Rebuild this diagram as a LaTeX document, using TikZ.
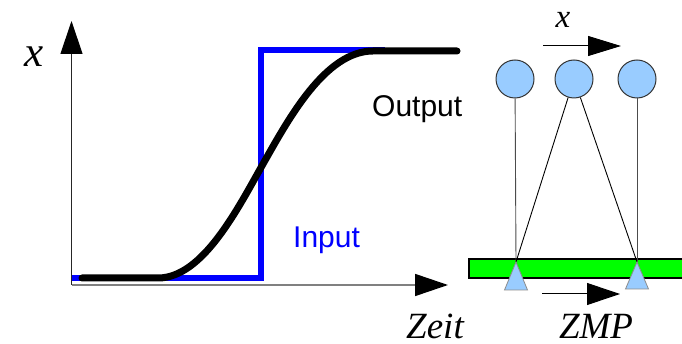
\documentclass[tikz,border=0pt]{standalone}
\usepackage{fontspec}
\setmainfont{Liberation Serif}
\newfontfamily\sansf{Liberation Sans}
\usetikzlibrary{arrows.meta}
\definecolor{lblue}{HTML}{99CCFF}
\definecolor{pureblue}{HTML}{0000FF}
\definecolor{pgreen}{HTML}{00FF00}
\begin{document}
\begin{tikzpicture}[x=1pt,y=-1pt,
  ball/.style={circle,draw=black!80,fill=lblue,line width=1pt,minimum size=38pt,inner sep=0pt},
  rod/.style={draw=black!70,line width=0.9pt},
  foot/.style={draw=black!45,fill=lblue,line width=0.8pt},
  lbl/.style={font=\fontsize{37}{39}\selectfont\itshape,inner sep=0pt},
  slbl/.style={font=\sansf\fontsize{30}{32}\selectfont,inner sep=0pt},
  bigarrow/.style={-{Triangle[length=33pt,width=22pt,color=black,fill=black]}},
]
\useasboundingbox (0,0) rectangle (682,344);
% axes
\coordinate (o) at (71.5,285);
\coordinate (ytip) at (71.5,21);
\coordinate (xtip) at (448,285);
\draw[bigarrow,line width=1.2pt,black!85] (o) -- (ytip);
\draw[bigarrow,line width=1.6pt,black!50] (o) -- (xtip);
% input
\coordinate (i0) at (72,278);
\coordinate (i1) at (260.5,278);
\coordinate (i2) at (260.5,50.5);
\coordinate (i3) at (385,50.5);
\draw[pureblue,line width=6pt] (i0) -- (i1) -- (i2) -- (i3);
% output
\coordinate (c0) at (82,278);
\coordinate (c1) at (158,278);
\coordinate (cm) at (263,164);
\coordinate (c2) at (373,51);
\coordinate (c3) at (457,51);
\draw[black,line width=7pt,line cap=round] (c0) -- (c1)
  .. controls (203,278) and (238,208) .. (cm)
  .. controls (288,120) and (325,51) .. (c2) -- (c3);
\node[lbl,font=\fontsize{43}{45}\selectfont\itshape] (lx) at (34,57) {x};
\node[lbl] (lzeit) at (435,326) {Zeit};
\node[slbl,anchor=base west] (lout) at (372,117) {Output};
\node[slbl,anchor=base west,text=pureblue] (lin) at (293,248) {Input};
% right part
\draw[draw=black,fill=pgreen,line width=1.2pt] (469,259) rectangle (685,278);
\node[ball] (b1) at (515,79) {};
\node[ball] (b2) at (574,79) {};
\node[ball] (b3) at (637,79) {};
\coordinate (t1) at (516,262);
\coordinate (t2) at (637,262);
\draw[rod] (b1) -- (t1);
\draw[rod,black] (b2) -- (t1);
\draw[rod,black] (b2) -- (t2);
\draw[rod] (b3) -- (t2);
\filldraw[foot] (t1) -- ++(11.5,28) -- ++(-23,0) -- cycle;
\filldraw[foot] (t2) -- ++(11.5,27) -- ++(-23,0) -- cycle;
\coordinate (xa) at (543,46);
\coordinate (xb) at (621,46);
\draw[-{Triangle[length=33pt,width=20pt]},line width=1pt] (xa) -- (xb);
\coordinate (za) at (542,294);
\coordinate (zb) at (620,294);
\draw[bigarrow,line width=1pt] (za) -- (zb);
\node[lbl,font=\fontsize{33}{35}\selectfont\itshape] (rx) at (563,20) {x};
\node[lbl] (lzmp) at (596,326) {ZMP};
\end{tikzpicture}
\end{document}
